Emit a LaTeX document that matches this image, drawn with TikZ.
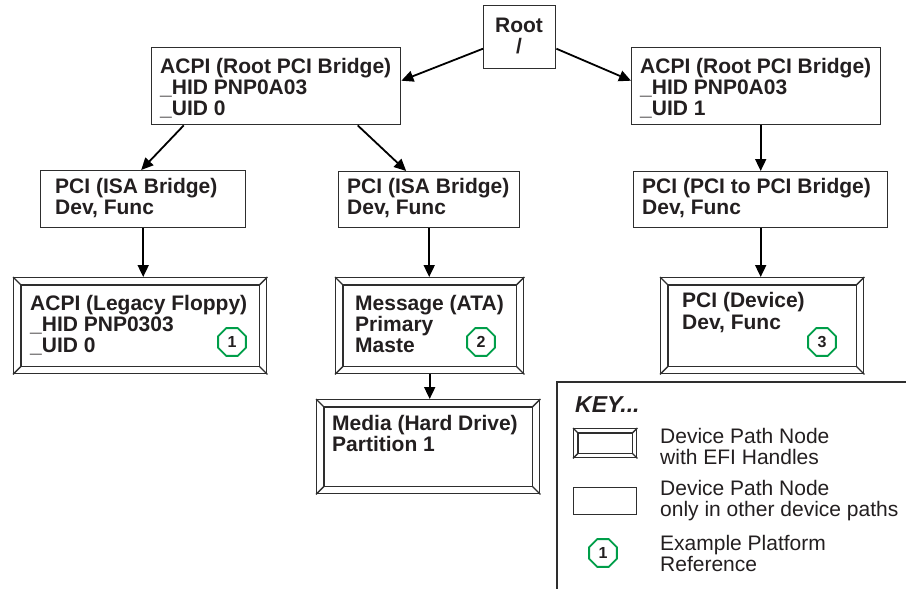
\documentclass[tikz,border=0pt]{standalone}
\usepackage{fontspec}
\setmainfont{Liberation Sans}
\usetikzlibrary{arrows.meta,shapes.geometric}
\definecolor{ink}{HTML}{231F20}
\definecolor{framecol}{HTML}{2E2E2E}
\definecolor{refgreen}{RGB}{0,158,73}
\newcommand\tlines[1]{\begin{tabular}[t]{@{}l@{}}#1\end{tabular}}
\newcommand\efiframe[2]{%
  \draw[boxline] ([shift={(#2pt,-#2pt)}]#1.north west) rectangle ([shift={(-#2pt,#2pt)}]#1.south east);
  \draw[boxline] (#1.north west) -- ([shift={(#2pt,-#2pt)}]#1.north west)
    (#1.north east) -- ([shift={(-#2pt,-#2pt)}]#1.north east)
    (#1.south west) -- ([shift={(#2pt,#2pt)}]#1.south west)
    (#1.south east) -- ([shift={(-#2pt,#2pt)}]#1.south east);}
\tikzset{
  boxline/.style={draw=framecol, line width=1.4pt},
  plainbox/.style={rectangle, draw=framecol, line width=1.4pt, fill=white, inner sep=0pt, anchor=north west},
  lbl/.style={font=\fontsize{21}{21}\selectfont\bfseries, text=ink, inner sep=0pt, anchor=base west},
  keytxt/.style={font=\fontsize{21}{20.5}\selectfont, text=ink, inner sep=0pt, anchor=base west},
  arr/.style={draw=black, line width=1.8pt, -{Triangle[length=12pt,width=11pt]}},
  refoct/.style={regular polygon, regular polygon sides=8, draw=refgreen, line width=1.8pt,
    minimum size=30pt, inner sep=0pt, fill=white, font=\fontsize{16}{16}\selectfont\bfseries, text=ink},
}
\begin{document}
\begin{tikzpicture}[x=1pt,y=-1pt]
\fill[white] (0,0) rectangle (906,589);
\useasboundingbox (0,0) rectangle (906,589);

% boxes
\node[plainbox, minimum width=72pt, minimum height=63pt] (root) at (483,5) {};
\node[plainbox, minimum width=249pt, minimum height=77pt] (acpil) at (151,47) {};
\node[plainbox, minimum width=249pt, minimum height=77pt] (acpir) at (631,47) {};
\node[plainbox, minimum width=205pt, minimum height=57pt] (isal) at (40,170) {};
\node[plainbox, minimum width=181pt, minimum height=56pt] (isam) at (338,171) {};
\node[plainbox, minimum width=254pt, minimum height=56pt] (pcipci) at (633,171) {};
\node[plainbox, minimum width=253pt, minimum height=96pt] (floppy) at (13,277) {};
\node[plainbox, minimum width=188pt, minimum height=96pt] (message) at (335,277) {};
\node[plainbox, minimum width=223pt, minimum height=94pt] (media) at (316,399) {};
\node[plainbox, minimum width=203pt, minimum height=96pt] (pcidev) at (660,277) {};
\efiframe{floppy}{8}
\efiframe{message}{8}
\efiframe{media}{8}
\efiframe{pcidev}{8}

% texts
\node[lbl, font=\fontsize{21}{20}\selectfont\bfseries, anchor=base] (troot) at (519,32) {\begin{tabular}[t]{@{}c@{}}Root\\/\end{tabular}};
\node[lbl] (tacpil) at ([shift={(9pt,-26pt)}]acpil.north west) {\tlines{ACPI (Root PCI Bridge)\\\_HID PNP0A03\\\_UID 0}};
\node[lbl] (tacpir) at ([shift={(9pt,-26pt)}]acpir.north west) {\tlines{ACPI (Root PCI Bridge)\\\_HID PNP0A03\\\_UID 1}};
\node[lbl] (tisal) at ([shift={(15pt,-23pt)}]isal.north west) {\tlines{PCI (ISA Bridge)\\Dev, Func}};
\node[lbl] (tisam) at ([shift={(9pt,-22pt)}]isam.north west) {\tlines{PCI (ISA Bridge)\\Dev, Func}};
\node[lbl] (tpcipci) at ([shift={(9pt,-22pt)}]pcipci.north west) {\tlines{PCI (PCI to PCI Bridge)\\Dev, Func}};
\node[lbl] (tfloppy) at ([shift={(17pt,-33pt)}]floppy.north west) {\tlines{ACPI (Legacy Floppy)\\\_HID PNP0303\\\_UID 0}};
\node[lbl] (tmessage) at ([shift={(20pt,-33pt)}]message.north west) {\tlines{Message (ATA)\\Primary\\Maste}};
\node[lbl] (tmedia) at ([shift={(16pt,-31pt)}]media.north west) {\tlines{Media (Hard Drive)\\Partition 1}};
\node[lbl, font=\fontsize{21}{22.5}\selectfont\bfseries] (tpcidev) at ([shift={(22pt,-30pt)}]pcidev.north west) {\tlines{PCI (Device)\\Dev, Func}};

% reference octagons
\node[refoct] (o1) at (232,342) {1};
\node[refoct] (o2) at (481,342) {2};
\node[refoct] (o3) at (822,342) {3};

% connectors
\draw[arr] ([yshift=-11.5pt]root.west) -- ([yshift=5.5pt]acpil.east);
\draw[arr] ([yshift=-11.5pt]root.east) -- ([yshift=5.5pt]acpir.west);
\draw[arr] ([xshift=-92.5pt]acpil.south) -- ([xshift=-2pt]isal.north);
\draw[arr] ([xshift=81.5pt]acpil.south) -- ([xshift=-23pt]isam.north);
\draw[arr] (pcipci.north |- acpir.south) -- (pcipci.north);
\draw[arr] (isal.south) -- (isal.south |- floppy.north);
\draw[arr] (isam.south) -- (isam.south |- message.north);
\draw[arr] (message.south) -- (message.south |- media.north);
\draw[arr] (pcipci.south) -- (pcipci.south |- pcidev.north);

% key
\draw[boxline] (557,589) -- (557,382) -- (906,382);
\node[inner sep=0pt, anchor=base west, text=ink, font=\fontsize{23}{23}\selectfont\bfseries\itshape] (keytitle) at (575,412) {KEY...};
\node[plainbox, minimum width=63pt, minimum height=29pt] (keyefi) at (573,428) {};
\efiframe{keyefi}{5}
\node[plainbox, minimum width=63pt, minimum height=27pt] (keyplain) at (573,487) {};
\node[refoct] (keyoct) at (603,553) {1};
\node[keytxt] (k1) at (660,443) {\tlines{Device Path Node\\with EFI Handles}};
\node[keytxt] (k2) at (660,495) {\tlines{Device Path Node\\only in other device paths}};
\node[keytxt] (k3) at (660,550) {\tlines{Example Platform\\Reference}};
\end{tikzpicture}
\end{document}
